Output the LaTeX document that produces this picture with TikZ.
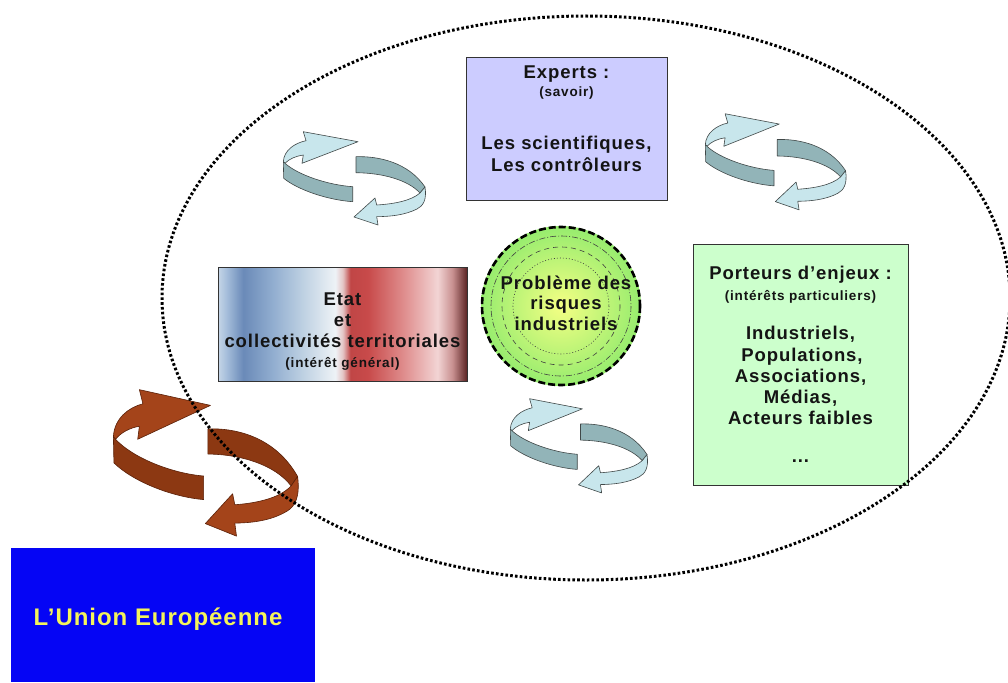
\documentclass[tikz,border=0pt]{standalone}
\usepackage{fontspec}
\setmainfont{Liberation Sans}
\newfontfamily\lsans[LetterSpace=5]{Liberation Sans}
\newfontfamily\lsmall[LetterSpace=6]{Liberation Sans}
\newfontfamily\uefont[LetterSpace=4]{Liberation Sans}
\usetikzlibrary{shapes.geometric}
\definecolor{expfill}{HTML}{CCCCFF}
\definecolor{porfill}{HTML}{CCFFCC}
\definecolor{boxline}{HTML}{333333}
\definecolor{uefill}{HTML}{0505F5}
\definecolor{uetext}{HTML}{F4F45A}
\definecolor{txt}{HTML}{141414}
\definecolor{cyl}{HTML}{C8E6EC}
\definecolor{cyd}{HTML}{92B4B8}
\definecolor{brl}{HTML}{A4441A}
\definecolor{brd}{HTML}{8C3812}
\definecolor{brline}{HTML}{5A2008}
\definecolor{cyline}{HTML}{404848}
\definecolor{circin}{HTML}{F4FF84}
\definecolor{circout}{HTML}{96EC6E}
\definecolor{ea}{HTML}{C4D4E6}
\definecolor{eb}{HTML}{A8C0DC}
\definecolor{ec}{HTML}{6A8AB8}
\definecolor{ed}{HTML}{92AED0}
\definecolor{ee}{HTML}{C2D4E4}
\definecolor{ef}{HTML}{EEF2F6}
\definecolor{eg}{HTML}{E4C4C4}
\definecolor{eh}{HTML}{C04646}
\definecolor{ei}{HTML}{C84A4A}
\definecolor{ej}{HTML}{E09090}
\definecolor{ek}{HTML}{F2D4D4}
\definecolor{el}{HTML}{C89090}
\definecolor{em}{HTML}{582020}
\pgfdeclarehorizontalshading{etatshade}{100bp}{color(0bp)=(ea); color(25bp)=(ea); color(26.5bp)=(eb); color(30bp)=(ec); color(36bp)=(ed); color(42.5bp)=(ee); color(48.5bp)=(ef); color(50bp)=(eg); color(51.5bp)=(eh); color(55bp)=(ei); color(62.5bp)=(ej); color(69bp)=(ek); color(72bp)=(el); color(75bp)=(em); color(100bp)=(em)}
\newcommand{\rotarrowdraw}[3]{%
 \filldraw[fill=#1, draw=#3, line width=0.6pt, line join=round] (23,10.7) .. controls (12,13) and (1,20) .. (0.3,31.7) -- (2,33.3) .. controls (6,29) and (13,26) .. (20.3,25) -- (19,33.3) -- (75,11.7) -- (20.3,1.7) -- cycle;
 \filldraw[fill=#2, draw=#3, line width=0.6pt, line join=round] (0.3,31.7) -- (0.7,48.3) .. controls (15,60) and (45,70) .. (69.7,71.7) -- (69.7,56.7) .. controls (45,55) and (15,45) .. (2,33.3) -- cycle;
 \filldraw[fill=#2, draw=#3, line width=0.6pt, line join=round] (73,26.7) .. controls (95,26) and (125,32) .. (142,57) -- (137,63) .. controls (125,50) and (100,43) .. (73,42.7) -- cycle;
 \filldraw[fill=#1, draw=#3, line width=0.6pt, line join=round] (142,57) .. controls (144,70) and (140,76) .. (134,79) .. controls (122,85) and (108,86.5) .. (93.7,86.7) -- (95,95) -- (71,87) -- (92,68) -- (93.7,75) .. controls (110,74) and (128,71) .. (137,63) -- cycle;
}
\begin{document}
\begin{tikzpicture}[x=1pt,y=-1pt,
  boxstyle/.style={draw=boxline, line width=0.8pt, inner sep=0pt},
  maintext/.style={font=\lsans\bfseries\fontsize{18.5}{22}\selectfont, text=txt, anchor=base, inner sep=0pt},
  smalltext/.style={font=\lsmall\bfseries\fontsize{13.5}{16}\selectfont, text=txt, anchor=base, inner sep=0pt},
  ring/.style={line width=0.6pt, draw=black!75}]
\useasboundingbox (0,0) rectangle (1008,682);
\fill[white] (0,0) rectangle (1008,682);

% boxes
\node[boxstyle, fill=expfill, minimum width=201pt, minimum height=143pt, anchor=north west] (experts) at (466,57) {};
\node[boxstyle, shading=etatshade, minimum width=249pt, minimum height=114pt, anchor=north west] (etat) at (218,267) {};
\draw[boxline, line width=0.8pt] (etat.north west) rectangle (etat.south east);
\node[boxstyle, fill=porfill, minimum width=215pt, minimum height=241pt, anchor=north west] (porteurs) at (693,244) {};
\node[fill=uefill, minimum width=304pt, minimum height=134pt, inner sep=0pt, anchor=north west] (ue) at (11,548) {};

% central circle
\node[circle, minimum size=160pt, inner sep=0pt, inner color=circin, outer color=circout] (probleme) at (561,306) {};
\draw[ring, dash pattern=on 6pt off 2pt on 1pt off 2pt] (probleme.center) circle[radius=70];
\draw[ring, dash pattern=on 5pt off 4pt] (probleme.center) circle[radius=59];
\draw[ring, dash pattern=on 1pt off 2pt] (probleme.center) circle[radius=48];
\draw[line width=2.6pt, dash pattern=on 7pt off 3pt] (probleme.center) circle[radius=79];

% rotating arrows
\begin{scope}[shift={(283,130)}]
 \rotarrowdraw{cyl}{cyd}{cyline}
\end{scope}
\begin{scope}[shift={(705,112)}, xscale=0.99, yscale=1.03]
 \rotarrowdraw{cyl}{cyd}{cyline}
\end{scope}
\begin{scope}[shift={(510,397)}, xscale=0.965, yscale=1.01]
 \rotarrowdraw{cyl}{cyd}{cyline}
\end{scope}
\begin{scope}[shift={(113,387)}, xscale=1.30, yscale=1.57]
 \rotarrowdraw{brl}{brd}{brline}
\end{scope}

% big dotted ellipse
\draw[line width=3pt, dash pattern=on 2.6pt off 2.2pt] (586,298) ellipse[x radius=424, y radius=282];

% texts
\node[maintext] (t1) at (566.5,79) {Experts :};
\node[smalltext] (t2) at (566.5,97) {(savoir)};
\node[maintext] (t3) at (566.5,149) {Les scientifiques,};
\node[maintext] (t4) at (566.5,171) {Les contrôleurs};

\node[maintext] (e1) at (342.5,305) {Etat};
\node[maintext] (e2) at (342.5,326) {et};
\node[maintext] (e3) at (342.5,347) {collectivités territoriales};
\node[smalltext] (e4) at (342.5,367) {(intérêt général)};

\node[maintext] (c1) at (566,289) {Problème des};
\node[maintext] (c2) at (566,309) {risques};
\node[maintext] (c3) at (566,330) {industriels};

\node[maintext] (p1) at (800.5,279) {Porteurs d’enjeux :};
\node[smalltext] (p2) at (800.5,300) {(intérêts particuliers)};
\node[maintext] (p3) at (800.5,339) {Industriels,};
\node[maintext] (p4) at (802,361) {Populations,};
\node[maintext] (p5) at (800.5,382) {Associations,};
\node[maintext] (p6) at (800.5,403) {Médias,};
\node[maintext] (p7) at (800.5,424) {Acteurs faibles};
\node[maintext] (p8) at (800.5,462) {...};

\node[font=\uefont\bfseries\fontsize{24}{28}\selectfont, text=uetext, anchor=base, inner sep=0pt] (u1) at (158,625) {L’Union Européenne};
\end{tikzpicture}
\end{document}
